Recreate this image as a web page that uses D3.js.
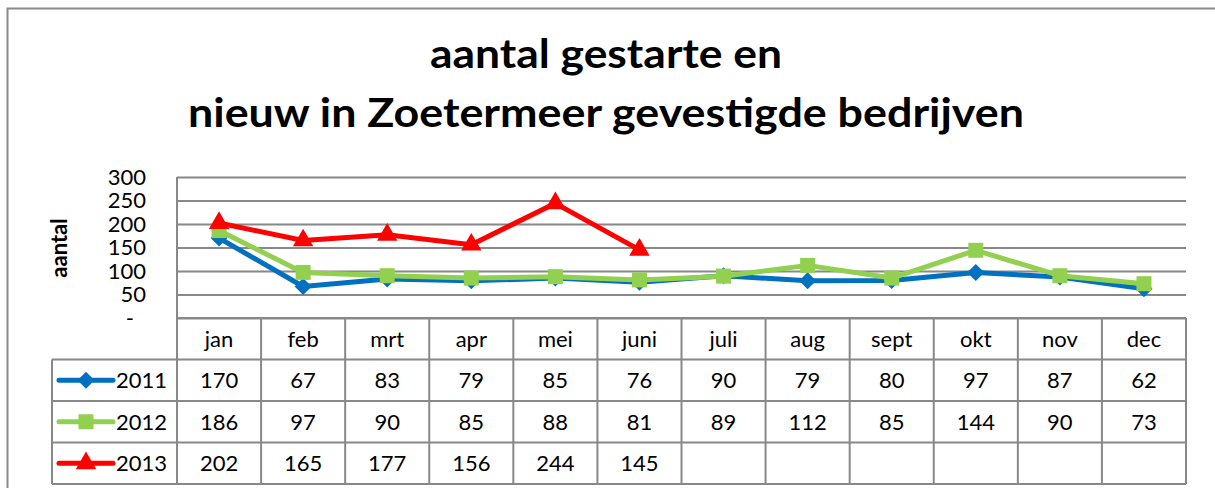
<!DOCTYPE html>
<html>
<head>
<meta charset="utf-8">
<script src="https://cdn.jsdelivr.net/npm/d3@7"></script>
<style>
  body { margin: 0; background: #fff; }
  svg { display: block; font-family: Lato, "Open Sans", sans-serif; }
</style>
</head>
<body>
<svg id="chart"></svg>
<script>
var months = ["jan", "feb", "mrt", "apr", "mei", "juni", "juli", "aug", "sept", "okt", "nov", "dec"];
var years = ["2011", "2012", "2013"];
var values2011 = [170, 67, 83, 79, 85, 76, 90, 79, 80, 97, 87, 62];
var values2012 = [186, 97, 90, 85, 88, 81, 89, 112, 85, 144, 90, 73];
var values2013 = [202, 165, 177, 156, 244, 145];
var yTicks = [0, 50, 100, 150, 200, 250, 300];
var titleLines = ["aantal gestarte en", "nieuw in Zoetermeer gevestigde bedrijven"];
var yTitle = "aantal";

var series = [
    { name: years[0], values: values2011, color: "#0070C0", symbol: "diamond" },
    { name: years[1], values: values2012, color: "#92D050", symbol: "square" },
    { name: years[2], values: values2013, color: "#FF0000", symbol: "triangle" }
];

var svgWidth = 1215, svgHeight = 488;
var plot = { left: 177, right: 1186, top: 177, bottom: 318 };
var gridColor = "#888";

var svg = d3.select("#chart")
    .attr("width", svgWidth)
    .attr("height", svgHeight);

// outer chart frame (runs off the picture on right and bottom)
svg.append("rect")
    .attr("x", 7.5).attr("y", 8.5)
    .attr("width", 1230).attr("height", 500)
    .attr("fill", "none")
    .attr("stroke", "#8a8a8a")
    .attr("stroke-width", 2);

// title
svg.selectAll(".title")
    .data(titleLines)
    .enter().append("text")
    .attr("class", "title")
    .attr("x", 606)
    .attr("y", function(d, i) { return 68 + i * 59; })
    .attr("text-anchor", "middle")
    .attr("font-size", 40)
    .attr("font-weight", "bold")
    .attr("textLength", function(d, i) { return i == 0 ? 352 : 836; })
    .attr("lengthAdjust", "spacingAndGlyphs")
    .text(function(d) { return d; });

var x = d3.scaleBand().domain(months).range([plot.left, plot.right]);
var y = d3.scaleLinear().domain([0, 300]).range([plot.bottom, plot.top]);

// gridlines + y labels
var yAxis = svg.append("g")
    .attr("transform", "translate(" + plot.left + ",0)")
    .call(d3.axisLeft(y)
        .tickValues(yTicks)
        .tickSize(-(plot.right - plot.left))
        .tickPadding(31)
        .tickFormat(function(d) { return d == 0 ? "-" : d; }));
yAxis.select(".domain").remove();
yAxis.selectAll(".tick line")
    .attr("stroke", gridColor)
    .attr("stroke-width", 2);
yAxis.selectAll(".tick text")
    .attr("font-size", 22)
    .attr("font-family", "Lato, sans-serif")
    .attr("fill", "#000")
    .attr("dx", function(d) { return d == 0 ? -12 : 0; })
    .attr("dy", "0.32em");

// left axis line
svg.append("line")
    .attr("x1", plot.left).attr("x2", plot.left)
    .attr("y1", plot.top).attr("y2", plot.bottom)
    .attr("stroke", gridColor).attr("stroke-width", 2);

svg.append("text")
    .attr("transform", "translate(67,248) rotate(-90)")
    .attr("text-anchor", "middle")
    .attr("font-size", 22)
    .attr("font-weight", "bold")
    .text(yTitle);

// data table
var rows = d3.scaleBand().domain(["head"].concat(years)).range([plot.bottom, 484]);
var legendLeft = 52;
var table = svg.append("g");

rows.domain().forEach(function(r, i) {
    if (i == 0) return;
    table.append("line")
        .attr("x1", legendLeft).attr("x2", plot.right)
        .attr("y1", rows(r)).attr("y2", rows(r))
        .attr("stroke", gridColor).attr("stroke-width", 2);
});
table.append("line")
    .attr("x1", legendLeft).attr("x2", plot.right)
    .attr("y1", 484).attr("y2", 484)
    .attr("stroke", gridColor).attr("stroke-width", 2);
table.append("line")
    .attr("x1", plot.left).attr("x2", plot.right)
    .attr("y1", plot.bottom).attr("y2", plot.bottom)
    .attr("stroke", gridColor).attr("stroke-width", 2);
table.append("line")
    .attr("x1", legendLeft).attr("x2", legendLeft)
    .attr("y1", rows(years[0])).attr("y2", 484)
    .attr("stroke", gridColor).attr("stroke-width", 2);
months.concat(["end"]).forEach(function(m, i) {
    var xx = i < months.length ? x(m) : plot.right;
    table.append("line")
        .attr("x1", xx).attr("x2", xx)
        .attr("y1", plot.bottom).attr("y2", 484)
        .attr("stroke", gridColor).attr("stroke-width", 2);
});

table.selectAll(".month")
    .data(months)
    .enter().append("text")
    .attr("x", function(d) { return x(d) + x.bandwidth() / 2; })
    .attr("y", rows("head") + rows.bandwidth() / 2)
    .attr("dy", "0.36em")
    .attr("text-anchor", "middle")
    .attr("font-size", 22)
    .text(function(d) { return d; });

function symbolPath(type, s) {
    if (type == "diamond") return d3.symbol(d3.symbolSquare, s * s / 2)();
    if (type == "square") return d3.symbol(d3.symbolSquare, s * s)();
    return d3.symbol(d3.symbolTriangle, s * s * 0.5)();
}
var markerSize = { diamond: 17, square: 15, triangle: 19 };

series.forEach(function(s) {
    var cy = rows(s.name) + rows.bandwidth() / 2;
    table.selectAll(".v" + s.name)
        .data(s.values)
        .enter().append("text")
        .attr("x", function(d, i) { return x(months[i]) + x.bandwidth() / 2; })
        .attr("y", cy)
        .attr("dy", "0.36em")
        .attr("text-anchor", "middle")
        .attr("font-size", 22)
        .text(function(d) { return d; });

    // legend key
    table.append("line")
        .attr("x1", 59).attr("x2", 113)
        .attr("y1", cy).attr("y2", cy)
        .attr("stroke", s.color).attr("stroke-width", 5)
        .attr("stroke-linecap", "round");
    table.append("path")
        .attr("d", symbolPath(s.symbol, markerSize[s.symbol]))
        .attr("transform", "translate(86," + cy + ")" + (s.symbol == "diamond" ? " rotate(45)" : ""))
        .attr("fill", s.color);
    table.append("text")
        .attr("x", 116).attr("y", cy)
        .attr("dy", "0.36em")
        .attr("font-size", 22)
        .text(s.name);
});

// lines
var line = d3.line()
    .x(function(d, i) { return x(months[i]) + x.bandwidth() / 2; })
    .y(function(d) { return y(d); });

series.forEach(function(s) {
    svg.append("path")
        .datum(s.values)
        .attr("fill", "none")
        .attr("stroke", s.color)
        .attr("stroke-width", 5)
        .attr("stroke-linejoin", "round")
        .attr("d", line);
    svg.selectAll(".m" + s.name)
        .data(s.values)
        .enter().append("path")
        .attr("d", symbolPath(s.symbol, markerSize[s.symbol]))
        .attr("transform", function(d, i) {
            return "translate(" + (x(months[i]) + x.bandwidth() / 2) + "," + y(d) + ")" +
                (s.symbol == "diamond" ? " rotate(45)" : "");
        })
        .attr("fill", s.color);
});
</script>
</body>
</html>
